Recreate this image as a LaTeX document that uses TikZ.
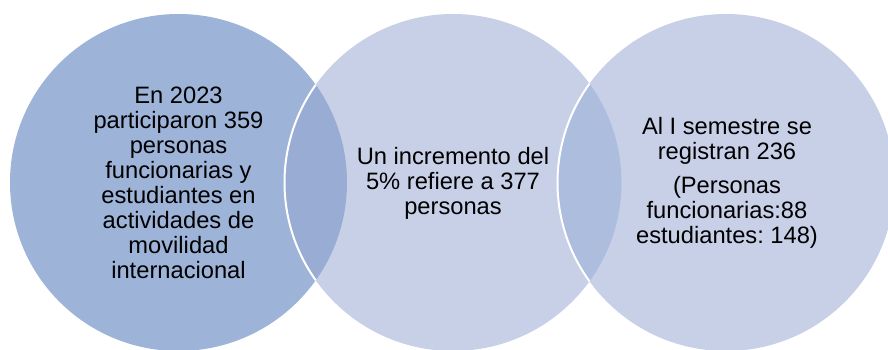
\documentclass[tikz,border=0pt]{standalone}
\usepackage{fontspec}
\setmainfont{Liberation Sans}
\frenchspacing
\definecolor{cLeft}{RGB}{157,179,216}
\definecolor{cMid}{RGB}{200,208,232}
\definecolor{cOvA}{RGB}{152,172,212}
\definecolor{cOvB}{RGB}{173,189,222}
\tikzset{
  venntext/.style={align=center, text=black, font=\fontsize{23.7}{25}\selectfont\frenchspacing, inner sep=0pt},
  vennedge/.style={draw=white, line width=2pt}
}
\begin{document}
\begin{tikzpicture}[x=1pt,y=1pt]
\useasboundingbox (0,0) rectangle (888,349);
\clip (0,0) rectangle (888,349);
\def\rad{168.5}
\coordinate (cL) at (178.5,166.5);
\coordinate (cM) at (453,166.5);
\coordinate (cR) at (726,166.5);
% fills
\fill[cLeft] (cL) circle (\rad);
\fill[cMid] (cM) circle (\rad);
\fill[cMid] (cR) circle (\rad);
\begin{scope}
  \clip (cL) circle (\rad);
  \fill[cOvA] (cM) circle (\rad);
  \draw[vennedge] (cM) circle (\rad);
\end{scope}
\begin{scope}
  \clip (cM) circle (\rad);
  \fill[cOvB] (cR) circle (\rad);
  \draw[vennedge] (cR) circle (\rad);
\end{scope}
% texts
\node[venntext] (tL) at (178.5,166) {En 2023\\participaron 359\\personas\\funcionarias y\\estudiantes en\\actividades de\\movilidad\\internacional};
\node[venntext] (tM) at (453,166) {Un incremento del\\5\% refiere a 377\\personas};
\node[venntext] (tR) at (727,166) {Al I semestre se\\registran 236\\[9pt](Personas\\funcionarias:88\\estudiantes: 148)};
\end{tikzpicture}
\end{document}
